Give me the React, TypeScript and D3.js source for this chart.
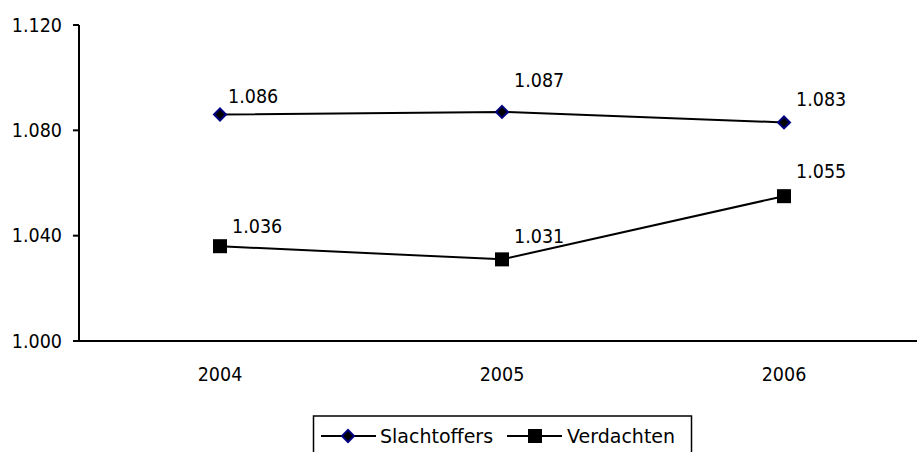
import React from "react";
import * as d3 from "d3";

const years = ["2004", "2005", "2006"];
const slachtoffers = [1.086, 1.087, 1.083];
const verdachten = [1.036, 1.031, 1.055];
const yTicks = [1.0, 1.04, 1.08, 1.12];

// manual label offsets (Excel-style placed labels)
const slachtoffersLabelOffset = [
  [8, -12],
  [12, -25],
  [12, -16],
];
const verdachtenLabelOffset = [
  [12, -13],
  [12, -16],
  [12, -18],
];

const fmt = (v: number) => d3.format(".3f")(v);
const NUM_FONT = "'DejaVu Sans Condensed', 'DejaVu Sans', sans-serif";
const TXT_FONT = "'DejaVu Sans', sans-serif";
const NUM_SIZE = 19.5;

const App = () => {
  const width = 917;
  const height = 452;
  const left = 79;
  const top = 25;
  const bottom = 341;

  const x = d3
    .scaleBand()
    .domain(years)
    .range([left, left + 282 * 3])
    .padding(0);
  const y = d3.scaleLinear().domain([1.0, 1.12]).range([bottom, top]);
  const cx = (d: string) => (x(d) as number) + x.bandwidth() / 2;

  const line = d3
    .line<number>()
    .x((d, i) => cx(years[i]))
    .y((d) => y(d));

  const diamond = (px: number, py: number, r: number) =>
    `M${px},${py - r}L${px + r},${py}L${px},${py + r}L${px - r},${py}Z`;

  return (
    <svg
      width={width}
      height={height}
      style={{ position: "absolute", left: 0, top: 0, fontFamily: NUM_FONT }}
    >
      <rect width={width} height={height} fill="#fff" />
      {/* axes */}
      <line x1={left} x2={left} y1={top} y2={bottom} stroke="#000" strokeWidth={2} />
      <line x1={left} x2={width} y1={bottom} y2={bottom} stroke="#000" strokeWidth={2} />
      {yTicks.map((t) => (
        <g key={t}>
          <line x1={left - 6} x2={left} y1={y(t)} y2={y(t)} stroke="#000" strokeWidth={2} />
          <text x={62} y={y(t)} dy="0.35em" textAnchor="end" fontSize={NUM_SIZE} fill="#000">
            {fmt(t)}
          </text>
        </g>
      ))}
      {years.map((yr) => (
        <text key={yr} x={cx(yr)} y={381} textAnchor="middle" fontSize={NUM_SIZE} fill="#000">
          {yr}
        </text>
      ))}

      {/* Slachtoffers */}
      <path d={line(slachtoffers) || ""} fill="none" stroke="#000" strokeWidth={2} />
      {slachtoffers.map((v, i) => (
        <g key={"s" + i}>
          <path d={diamond(cx(years[i]), y(v), 6)} fill="#000" stroke="#000080" strokeWidth={2} />
          <text
            x={cx(years[i]) + slachtoffersLabelOffset[i][0]}
            y={y(v) + slachtoffersLabelOffset[i][1]}
            fontSize={NUM_SIZE}
            fill="#000"
          >
            {fmt(v)}
          </text>
        </g>
      ))}

      {/* Verdachten */}
      <path d={line(verdachten) || ""} fill="none" stroke="#000" strokeWidth={2} />
      {verdachten.map((v, i) => (
        <g key={"v" + i}>
          <rect x={cx(years[i]) - 7} y={y(v) - 7} width={14} height={14} fill="#000" />
          <text
            x={cx(years[i]) + verdachtenLabelOffset[i][0]}
            y={y(v) + verdachtenLabelOffset[i][1]}
            fontSize={NUM_SIZE}
            fill="#000"
          >
            {fmt(v)}
          </text>
        </g>
      ))}

      {/* legend */}
      <rect x={313.5} y={416} width={378} height={50} fill="#fff" stroke="#000" strokeWidth={1.5} />
      <line x1={321} x2={376} y1={436} y2={436} stroke="#000" strokeWidth={2} />
      <path d={diamond(348, 436, 6)} fill="#000" stroke="#000080" strokeWidth={2} />
      <text x={380} y={443} fontSize={19} fontFamily={TXT_FONT} fill="#000">Slachtoffers</text>
      <line x1={507} x2={562} y1={436} y2={436} stroke="#000" strokeWidth={2} />
      <rect x={528} y={429} width={14} height={14} fill="#000" />
      <text x={567} y={443} fontSize={19} fontFamily={TXT_FONT} fill="#000">Verdachten</text>
    </svg>
  );
};

export default App;
